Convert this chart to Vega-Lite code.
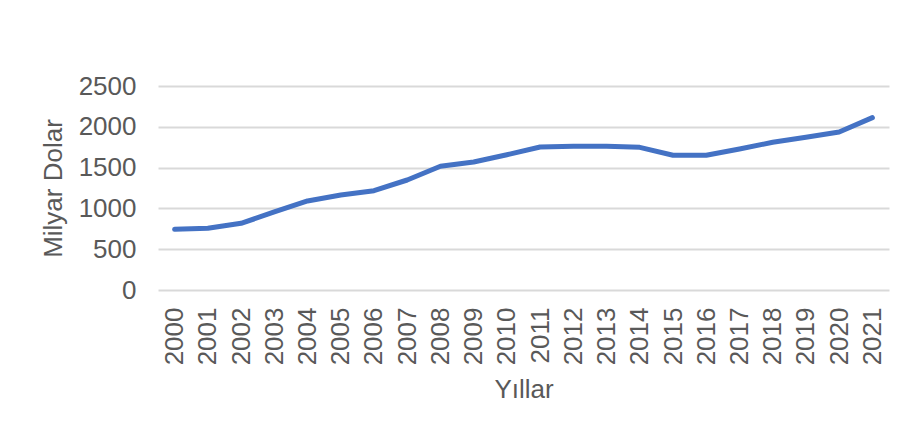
{
  "$schema": "https://vega.github.io/schema/vega-lite/v6.json",
  "width": 731,
  "height": 204,
  "autosize": {"type": "none"},
  "padding": {"left": 158, "top": 86, "right": 25, "bottom": 149},
  "background": "white",
  "config": {
    "view": {"stroke": null},
    "font": "Liberation Sans"
  },
  "data": {
    "values": [
      {"yil": "2000", "deger": 743},
      {"yil": "2001", "deger": 756},
      {"yil": "2002", "deger": 817},
      {"yil": "2003", "deger": 956},
      {"yil": "2004", "deger": 1091},
      {"yil": "2005", "deger": 1164},
      {"yil": "2006", "deger": 1217},
      {"yil": "2007", "deger": 1348},
      {"yil": "2008", "deger": 1516},
      {"yil": "2009", "deger": 1569},
      {"yil": "2010", "deger": 1658},
      {"yil": "2011", "deger": 1752},
      {"yil": "2012", "deger": 1762},
      {"yil": "2013", "deger": 1762},
      {"yil": "2014", "deger": 1748},
      {"yil": "2015", "deger": 1652},
      {"yil": "2016", "deger": 1652},
      {"yil": "2017", "deger": 1728},
      {"yil": "2018", "deger": 1810},
      {"yil": "2019", "deger": 1871},
      {"yil": "2020", "deger": 1936},
      {"yil": "2021", "deger": 2112}
    ]
  },
  "mark": {"type": "line", "color": "#4472C4", "strokeWidth": 5, "strokeCap": "round", "strokeJoin": "round"},
  "encoding": {
    "x": {
      "field": "yil",
      "type": "ordinal",
      "scale": {"type": "point", "padding": 0.5},
      "axis": {
        "title": "Yıllar",
        "titleFontSize": 26,
        "titleFontWeight": "normal",
        "titleColor": "#595959",
        "titlePadding": 12,
        "labelFontSize": 26,
        "labelColor": "#595959",
        "labelAngle": -90,
        "labelPadding": 17,
        "ticks": false,
        "domain": false,
        "grid": false
      }
    },
    "y": {
      "field": "deger",
      "type": "quantitative",
      "scale": {"domain": [0, 2500], "nice": false},
      "axis": {
        "title": "Milyar Dolar",
        "format": "d",
        "titleFontSize": 26,
        "titleFontWeight": "normal",
        "titleColor": "#595959",
        "titlePadding": 12,
        "labelFontSize": 26,
        "labelColor": "#595959",
        "labelPadding": 22,
        "values": [0, 500, 1000, 1500, 2000, 2500],
        "ticks": false,
        "domain": false,
        "grid": true,
        "gridColor": "#D9D9D9",
        "gridWidth": 2
      }
    }
  }
}
